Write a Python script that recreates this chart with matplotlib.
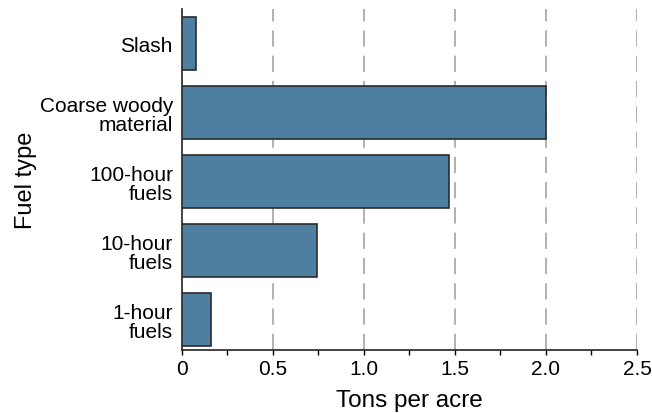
import matplotlib
matplotlib.use("Agg")
import matplotlib.pyplot as plt
from matplotlib.ticker import MultipleLocator

plt.rcParams['font.family'] = ['Liberation Sans', 'DejaVu Sans']

categories = ["1-hour\nfuels", "10-hour\nfuels", "100-hour\nfuels", "Coarse woody\nmaterial", "Slash"]
values = [0.16, 0.74, 1.465, 2.0, 0.077]
xticks = [0, 0.5, 1.0, 1.5, 2.0, 2.5]
xticklabels = ["0", "0.5", "1.0", "1.5", "2.0", "2.5"]

fig = plt.figure(figsize=(6.52, 4.14), dpi=100)
ax = fig.add_axes([0.279, 0.152, 0.698, 0.824])

ax.barh(range(len(categories)), values, height=0.77, color="#4e7fa0",
        edgecolor="#2b2b2b", linewidth=1.2, zorder=3)
ax.set_yticks(range(len(categories)))
ax.set_yticklabels(categories, fontsize=15, linespacing=1.05)
ax.tick_params(axis='y', length=0, pad=6.5)
ax.set_ylim(-0.44, 4.5)
ax.set_xlim(0, 2.5)
ax.set_xticks(xticks)
ax.set_xticklabels(xticklabels, fontsize=15)
ax.xaxis.set_minor_locator(MultipleLocator(0.25))
ax.tick_params(axis='x', which='major', length=3.5, width=1, direction='out', pad=3)
ax.tick_params(axis='x', which='minor', length=3.5, width=1, direction='out')
for x in xticks[1:]:
    ax.axvline(x, color="#aaaaaa", linestyle=(0, (9, 5)), linewidth=1.3, zorder=1)
for s in ["top", "right"]:
    ax.spines[s].set_visible(False)
for s in ["left", "bottom"]:
    ax.spines[s].set_linewidth(1.2)
    ax.spines[s].set_color("#222222")
ax.set_xlabel("Tons per acre", fontsize=17.5, labelpad=8)
ax.set_ylabel("Fuel type", fontsize=17)
ax.yaxis.set_label_coords(-0.318, 0.5)

fig.savefig("out.png", dpi=100)
